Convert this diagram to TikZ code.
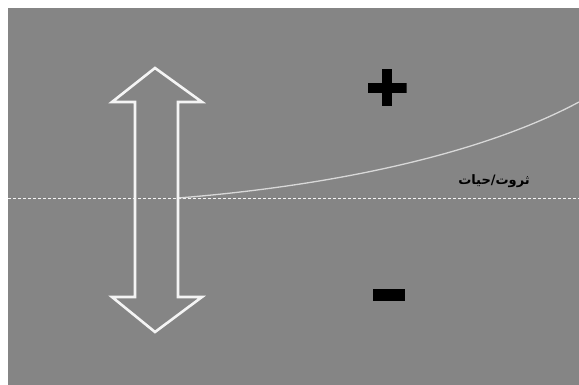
\documentclass[tikz,border=0pt]{standalone}
\usepackage{fontspec}
\usetikzlibrary{positioning}
\newfontfamily\arabicfont[Script=Arabic]{DejaVu Sans}
\TeXXeTstate=1
\definecolor{Panel}{HTML}{858585}
\definecolor{Chalk}{HTML}{F4F4F4}
\definecolor{Trend}{HTML}{D8D8D8}
\tikzset{
  panel/.style={fill=Panel,draw=none},
  axisline/.style={dashed,draw=Chalk,line width=.8pt,dash pattern=on 3pt off 2pt},
  twohead/.style={draw=Chalk,line width=2.6pt,line join=miter},
  trendline/.style={draw=Trend,line width=1.3pt},
  plusmark/.style={minimum width=39pt,minimum height=37pt,inner sep=0pt,
    path picture={
      \fill[black] ([yshift=-5pt]path picture bounding box.west) rectangle ([yshift=5pt]path picture bounding box.east);
      \fill[black] ([xshift=-5pt]path picture bounding box.south) rectangle ([xshift=5pt]path picture bounding box.north);}},
  minusmark/.style={fill=black,minimum width=32pt,minimum height=12pt,inner sep=0pt},
  lab/.style={font=\arabicfont\bfseries\fontsize{13}{15}\selectfont,text=black,inner sep=1pt}
}
\begin{document}
\begin{tikzpicture}[x=1pt,y=-1pt]
  \useasboundingbox (0,0) rectangle (579,385);
  \fill[white] (0,0) rectangle (579,385);
  \fill[panel] (8,8) rectangle (579,385);
  % zero line and curve
  \coordinate (l) at (8,198);
  \coordinate (r) at (579,198);
  \coordinate (o) at (178,198);
  \coordinate (e) at (579,102);
  \draw[axisline] (l) -- (r);
  \draw[trendline] (o) .. controls (330,186) and (480,155) .. (e);
  % double arrow
  \draw[twohead] (155,68) -- (202,102) -- (178,102) -- (178,297) -- (202,297)
    -- (155,332) -- (112,297) -- (135,297) -- (135,102) -- (112,102) -- cycle;
  \node[plusmark] (plus) at (387,88) {};
  \node[minusmark] (minus) at (389,295) {};
  \node[lab] (wealth) at (494,181) {\beginR ثروت/حیات\endR};
\end{tikzpicture}
\end{document}
